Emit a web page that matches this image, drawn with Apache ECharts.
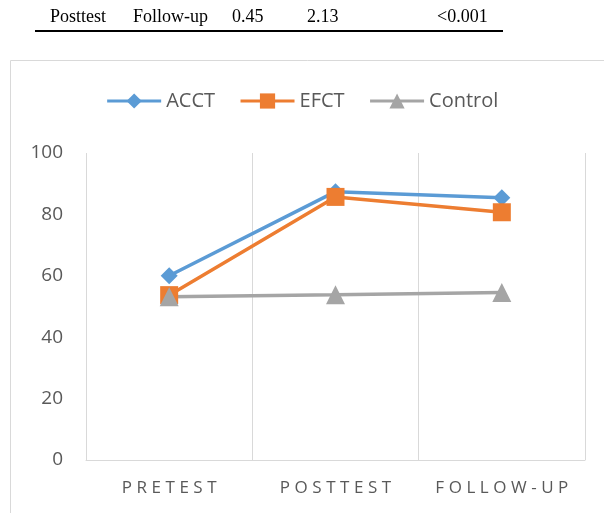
<!DOCTYPE html>
<html><head><meta charset="utf-8">
<script src="https://cdn.jsdelivr.net/npm/echarts@6/dist/echarts.min.js"></script>
<style>html,body{margin:0;padding:0;background:#fff}#c{width:604px;height:513px}</style>
</head><body><div id="c"></div>
<script>
const categories = ['PRETEST', 'POSTTEST', 'FOLLOW-UP'];
const acct = [60, 87.4, 85.4];
const efct = [53.7, 85.7, 80.7];
const control = [53.2, 53.8, 54.6];
const yTicks = [0, 20, 40, 60, 80, 100];
const tableRow = ['Posttest', 'Follow-up', '0.45', '2.13', '<0.001'];

const chart = echarts.init(document.getElementById('c'), null, {renderer: 'canvas'});
const tableX = [50, 133, 232, 307, 437];
const font = "'Open Sans', 'Noto Sans', sans-serif";
const graphics = tableRow.map((t, i) => ({
  type: 'text', left: tableX[i], top: 8,
  style: {text: t, font: '18px "Liberation Serif", "Times New Roman", serif', fill: '#000'}
}));
graphics.push({type: 'rect', shape: {x: 35, y: 30, width: 468, height: 2}, style: {fill: '#000'}});
graphics.push({type: 'rect', shape: {x: 10.5, y: 60.5, width: 600, height: 460}, style: {fill: 'none', stroke: '#d9d9d9', lineWidth: 1}, z: -1});

const mk = (name, data, color, symbol, size) => ({
  name, type: 'line', data, symbol, symbolSize: size,
  lineStyle: {color, width: 3.5}, itemStyle: {color}, color,
  emphasis: {disabled: true}
});

chart.setOption({
  animation: false,
  graphic: graphics,
  legend: {
    top: 86, left: 'center', itemWidth: 54, itemHeight: 19, itemGap: 24,
    textStyle: {color: '#595959', fontSize: 20, fontFamily: font},
    lineStyle: {width: 3},
    data: ['ACCT', 'EFCT', 'Control']
  },
  grid: {left: 86, right: 19, top: 153, bottom: 53},
  xAxis: {
    type: 'category', data: categories, boundaryGap: true,
    axisLine: {show: true, lineStyle: {color: '#d9d9d9'}},
    axisTick: {show: false},
    splitLine: {show: true, interval: 0, lineStyle: {color: '#d9d9d9', width: 1}},
    axisLabel: {color: '#595959', fontSize: 17, fontFamily: font, margin: 20, interval: 0,
      formatter: v => v.split('').join('\u2009\u200a')}
  },
  yAxis: {
    type: 'value', min: 0, max: 100, interval: 20,
    axisLine: {show: false}, axisTick: {show: false}, splitLine: {show: false},
    axisLabel: {color: '#595959', fontSize: 19, fontFamily: font, margin: 23,
      formatter: v => yTicks.includes(v) ? String(v) : ''}
  },
  series: [
    mk('ACCT', acct, '#5B9BD5', 'diamond', 17),
    mk('EFCT', efct, '#ED7D31', 'rect', 18),
    mk('Control', control, '#A5A5A5', 'triangle', 19)
  ]
});
</script></body></html>
